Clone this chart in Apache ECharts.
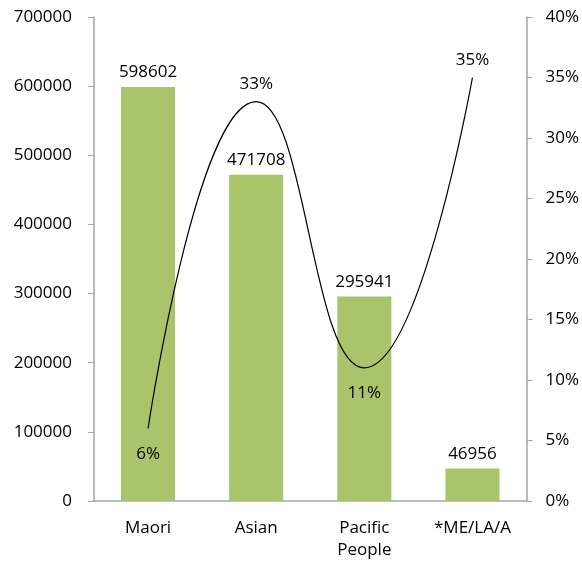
<!DOCTYPE html>
<html>
<head>
<meta charset="utf-8">
<script src="https://cdn.jsdelivr.net/npm/echarts@6/dist/echarts.min.js"></script>
<style>
  html, body { margin: 0; padding: 0; background: #fff; }
  #chart { width: 582px; height: 564px; }
</style>
</head>
<body>
<div id="chart"></div>
<script>
var categories = ['Maori', 'Asian', 'Pacific\nPeople', '*ME/LA/A'];
var counts = [598602, 471708, 295941, 46956];
var shares = [0.06, 0.33, 0.11, 0.35];
var shareLabelPos = ['bottom', 'top', 'bottom', 'top'];

var font = '"Open Sans", sans-serif';
var axisGrey = '#a6a6a6';
var fs = 17;

var chart = echarts.init(document.getElementById('chart'));

var option = {
  animation: false,
  textStyle: { fontFamily: font },
  grid: { left: 94, right: 54, top: 17, bottom: 63 },
  xAxis: {
    type: 'category',
    data: categories,
    axisLine: { lineStyle: { color: axisGrey, width: 1.5 } },
    axisTick: { alignWithLabel: false, length: 6, lineStyle: { color: axisGrey } },
    axisLabel: { color: '#000', fontSize: fs, fontFamily: font, margin: 16, lineHeight: 22 }
  },
  yAxis: [{
    type: 'value',
    min: 0, max: 700000, interval: 100000,
    splitLine: { show: false },
    axisLine: { show: true, lineStyle: { color: axisGrey, width: 1.5 } },
    axisTick: { show: true, length: 6, lineStyle: { color: axisGrey } },
    axisLabel: {
      color: '#000', fontSize: fs, fontFamily: font, margin: 22,
      formatter: function (v) { return String(v); }
    }
  }, {
    type: 'value',
    min: 0, max: 0.4, interval: 0.05,
    position: 'right',
    splitLine: { show: false },
    axisLine: { show: true, lineStyle: { color: axisGrey, width: 1.5 } },
    axisTick: { show: true, length: 6, lineStyle: { color: axisGrey } },
    axisLabel: {
      color: '#000', fontSize: fs, fontFamily: font, margin: 19,
      formatter: function (v) { return Math.round(v * 100) + '%'; }
    }
  }],
  series: [{
    name: 'count',
    type: 'bar',
    data: counts,
    barWidth: '50%',
    itemStyle: { color: '#aac46c' },
    label: { show: true, position: 'top', color: '#000', fontSize: fs, fontFamily: font, distance: 6 }
  }, {
    name: 'share',
    type: 'line',
    yAxisIndex: 1,
    smooth: 0.5,
    symbol: 'circle',
    symbolSize: 2,
    showSymbol: true,
    itemStyle: { color: 'rgba(0,0,0,0)' },
    lineStyle: { color: '#000', width: 1.2 },
    z: 5,
    label: {
      show: true,
      color: '#000', fontSize: fs, fontFamily: font,
      formatter: function (p) { return Math.round(p.value * 100) + '%'; }
    },
    data: shares.map(function (v, i) {
      return {
        value: v,
        label: {
          position: shareLabelPos[i],
          distance: shareLabelPos[i] === 'top' ? 8 : 16
        }
      };
    })
  }]
};

chart.setOption(option);
</script>
</body>
</html>
